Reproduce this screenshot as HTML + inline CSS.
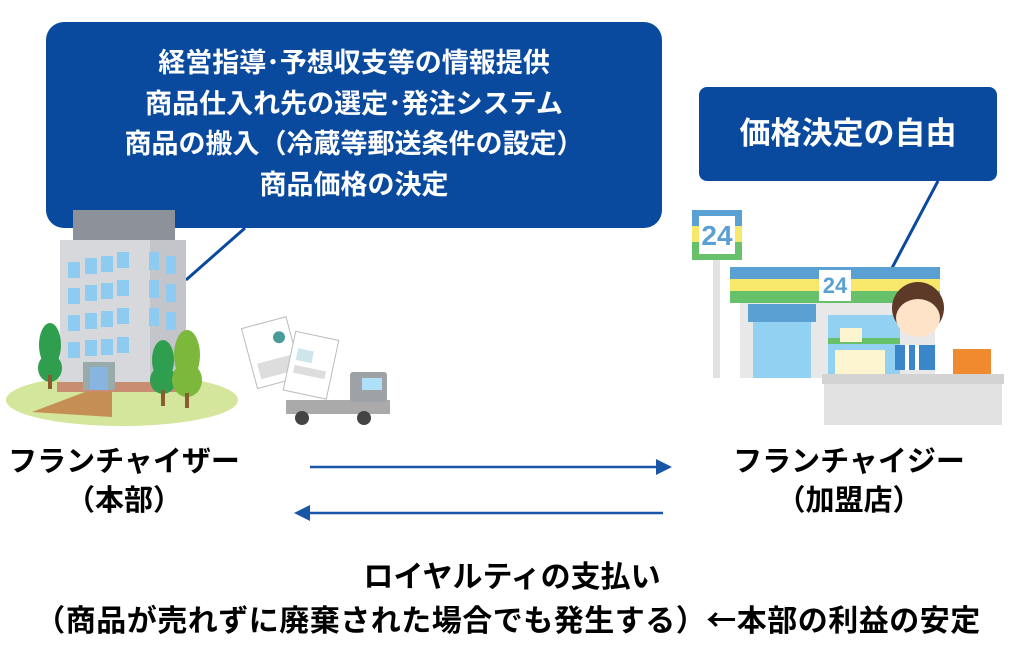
<!DOCTYPE html>
<html><head><meta charset="utf-8"><style>
html,body{margin:0;padding:0;background:#fff;}
body{width:1024px;height:652px;position:relative;overflow:hidden;font-family:"Liberation Sans","Noto Sans CJK JP",sans-serif;font-weight:bold;}
.t{position:absolute;white-space:nowrap;text-align:center;}
</style></head><body>
<svg width="1024" height="652" style="position:absolute;left:0;top:0">
<rect x="46" y="22" width="616" height="206" rx="18" fill="#0a4a9e"/>
<line x1="245" y1="228" x2="186" y2="280" stroke="#0a4a9e" stroke-width="3"/>
<rect x="699" y="87" width="298" height="94" rx="8" fill="#0a4a9e"/>
<line x1="938" y1="181" x2="892" y2="268" stroke="#0a4a9e" stroke-width="3"/>
<ellipse cx="122" cy="400" rx="116" ry="26" fill="#d3e69c"/>
<polygon points="85,392 112,392 112,417 32,412" fill="#c58e54"/>
<rect x="73" y="210" width="102" height="30" fill="#8d9199"/>
<rect x="60" y="240" width="90" height="150" fill="#d7d8dc"/>
<rect x="150" y="240" width="36" height="150" fill="#c3c5ca"/>
<rect x="57" y="382" width="130" height="10" fill="#c98d72"/>
<g fill="#8dcbf1">
<rect x="68" y="262" width="12" height="16"/><rect x="85" y="258" width="12" height="16"/><rect x="101" y="256" width="12" height="16"/><rect x="117" y="252" width="12" height="16"/>
<rect x="68" y="288" width="12" height="16"/><rect x="85" y="285" width="12" height="16"/><rect x="101" y="283" width="12" height="16"/><rect x="117" y="280" width="12" height="16"/>
<rect x="68" y="315" width="12" height="16"/><rect x="85" y="313" width="12" height="16"/><rect x="101" y="311" width="12" height="16"/><rect x="117" y="308" width="12" height="16"/>
<rect x="68" y="342" width="12" height="16"/><rect x="85" y="340" width="12" height="16"/><rect x="101" y="339" width="12" height="16"/><rect x="117" y="337" width="12" height="16"/>
<rect x="149" y="252" width="10" height="18"/><rect x="166" y="256" width="10" height="18"/>
<rect x="149" y="280" width="10" height="18"/><rect x="166" y="284" width="10" height="18"/>
<rect x="149" y="308" width="10" height="18"/><rect x="166" y="312" width="10" height="18"/>
</g>
<rect x="83" y="362" width="32" height="28" fill="#9aa" /><rect x="90" y="367" width="18" height="23" fill="#88b5e0"/>
<g fill="#2f9f4f"><ellipse cx="50" cy="345" rx="11" ry="22"/><ellipse cx="50" cy="368" rx="12" ry="14"/></g>
<rect x="48" y="375" width="4" height="14" fill="#8a5a30"/>
<g fill="#2f9f4f"><ellipse cx="163" cy="360" rx="11" ry="20"/><ellipse cx="163" cy="380" rx="13" ry="14"/></g>
<rect x="161" y="390" width="4" height="16" fill="#8a5a30"/>
<g fill="#7cb83c"><ellipse cx="187" cy="355" rx="13" ry="25"/><ellipse cx="187" cy="380" rx="15" ry="17"/></g>
<rect x="185" y="393" width="4" height="15" fill="#8a5a30"/>
<g transform="rotate(-15 270 350)"><rect x="248" y="322" width="46" height="62" fill="#fff" stroke="#bbb"/><rect x="254" y="360" width="34" height="16" fill="#ddd"/><circle cx="282" cy="340" r="6" fill="#4a9a9a"/></g>
<g transform="rotate(12 310 365)"><rect x="289" y="335" width="44" height="60" fill="#fff" stroke="#bbb"/><rect x="295" y="351" width="16" height="12" fill="#cfe5ec"/><rect x="295" y="368" width="32" height="8" fill="#ddd"/></g>
<rect x="286" y="400" width="104" height="14" fill="#aaa"/>
<rect x="350" y="372" width="37" height="30" rx="3" fill="#9ea1a5"/>
<rect x="362" y="378" width="20" height="12" fill="#aee0f8"/>
<circle cx="302" cy="418" r="7" fill="#444"/><circle cx="364" cy="418" r="7" fill="#444"/>
<rect x="713" y="258" width="7" height="120" fill="#e2e2e2"/>
<rect x="692" y="210" width="50" height="50" fill="#5ba0d3"/>
<rect x="692" y="226" width="50" height="16" fill="#f7e86b"/><rect x="692" y="242" width="50" height="18" fill="#67c16b"/>
<rect x="699" y="216" width="36" height="38" fill="#fff"/>
<rect x="740" y="303" width="195" height="75" fill="#e8e8e8"/>
<rect x="730" y="267" width="210" height="12" fill="#5ba0d3"/>
<rect x="730" y="279" width="210" height="12" fill="#f7e86b"/>
<rect x="730" y="291" width="210" height="12" fill="#67c16b"/>
<rect x="819" y="270" width="32" height="31" fill="#fff"/>
<rect x="748" y="304" width="68" height="18" fill="#5ba0d3"/>
<rect x="753" y="322" width="58" height="56" fill="#93d1f3"/>
<rect x="828" y="315" width="72" height="60" fill="#93d1f3"/>
<rect x="828" y="338" width="72" height="6" fill="#67c16b"/>
<rect x="835" y="350" width="50" height="25" fill="#fdf4d0"/>
<rect x="840" y="328" width="22" height="14" fill="#fdf4d0"/>
<path d="M895 345 h40 v25 h-40z" fill="#3b86c8"/>
<rect x="905" y="345" width="4" height="25" fill="#fff"/><rect x="915" y="345" width="4" height="25" fill="#fff"/>
<ellipse cx="918" cy="308" rx="26" ry="26" fill="#5c3a27"/>
<ellipse cx="918" cy="318" rx="22" ry="19" fill="#ffe3c8"/>
<rect x="953" y="349" width="38" height="25" fill="#f08a2e"/>
<rect x="822" y="374" width="182" height="10" fill="#d3d3d3"/>
<rect x="824" y="384" width="178" height="41" fill="#e2e2e2"/>
<line x1="310" y1="467" x2="660" y2="467" stroke="#1a56a8" stroke-width="2.5"/>
<polygon points="672,467 656,459 656,475" fill="#1a56a8"/>
<line x1="663" y1="513" x2="306" y2="513" stroke="#1a56a8" stroke-width="2.5"/>
<polygon points="294,513 310,505 310,521" fill="#1a56a8"/>
</svg>
<div class="t" style="left:692px;top:218px;width:50px;font-size:28px;color:#5ba0d3;line-height:36px">24</div>
<div class="t" style="left:819px;top:270px;width:32px;font-size:22px;color:#5ba0d3;line-height:31px">24</div>
<div class="t" style="left:46px;top:43px;width:616px;font-size:27px;color:#fff;line-height:40.5px">経営指導･予想収支等の情報提供<br>商品仕入れ先の選定･発注システム<br>商品の搬入（冷蔵等郵送条件の設定）<br>商品価格の決定</div>
<div class="t" style="left:699px;top:114px;width:298px;font-size:31px;color:#fff;line-height:40px">価格決定の自由</div>
<div class="t" style="left:-2px;top:443px;width:252px;font-size:29px;color:#000;line-height:39px">フランチャイザー<br>（本部）</div>
<div class="t" style="left:722px;top:443px;width:254px;font-size:29px;color:#000;line-height:39px">フランチャイジー<br>（加盟店）</div>
<div class="t" style="left:0px;top:557px;width:1024px;font-size:30px;color:#000;line-height:41px">ロイヤルティの支払い</div>
<div class="t" style="left:0px;top:598px;width:1016px;font-size:30px;color:#000;line-height:41px;letter-spacing:0.5px">（商品が売れずに廃棄された場合でも発生する）<span style="font-family:'Noto Sans CJK JP',sans-serif">←</span>本部の利益の安定</div>
</body></html>
